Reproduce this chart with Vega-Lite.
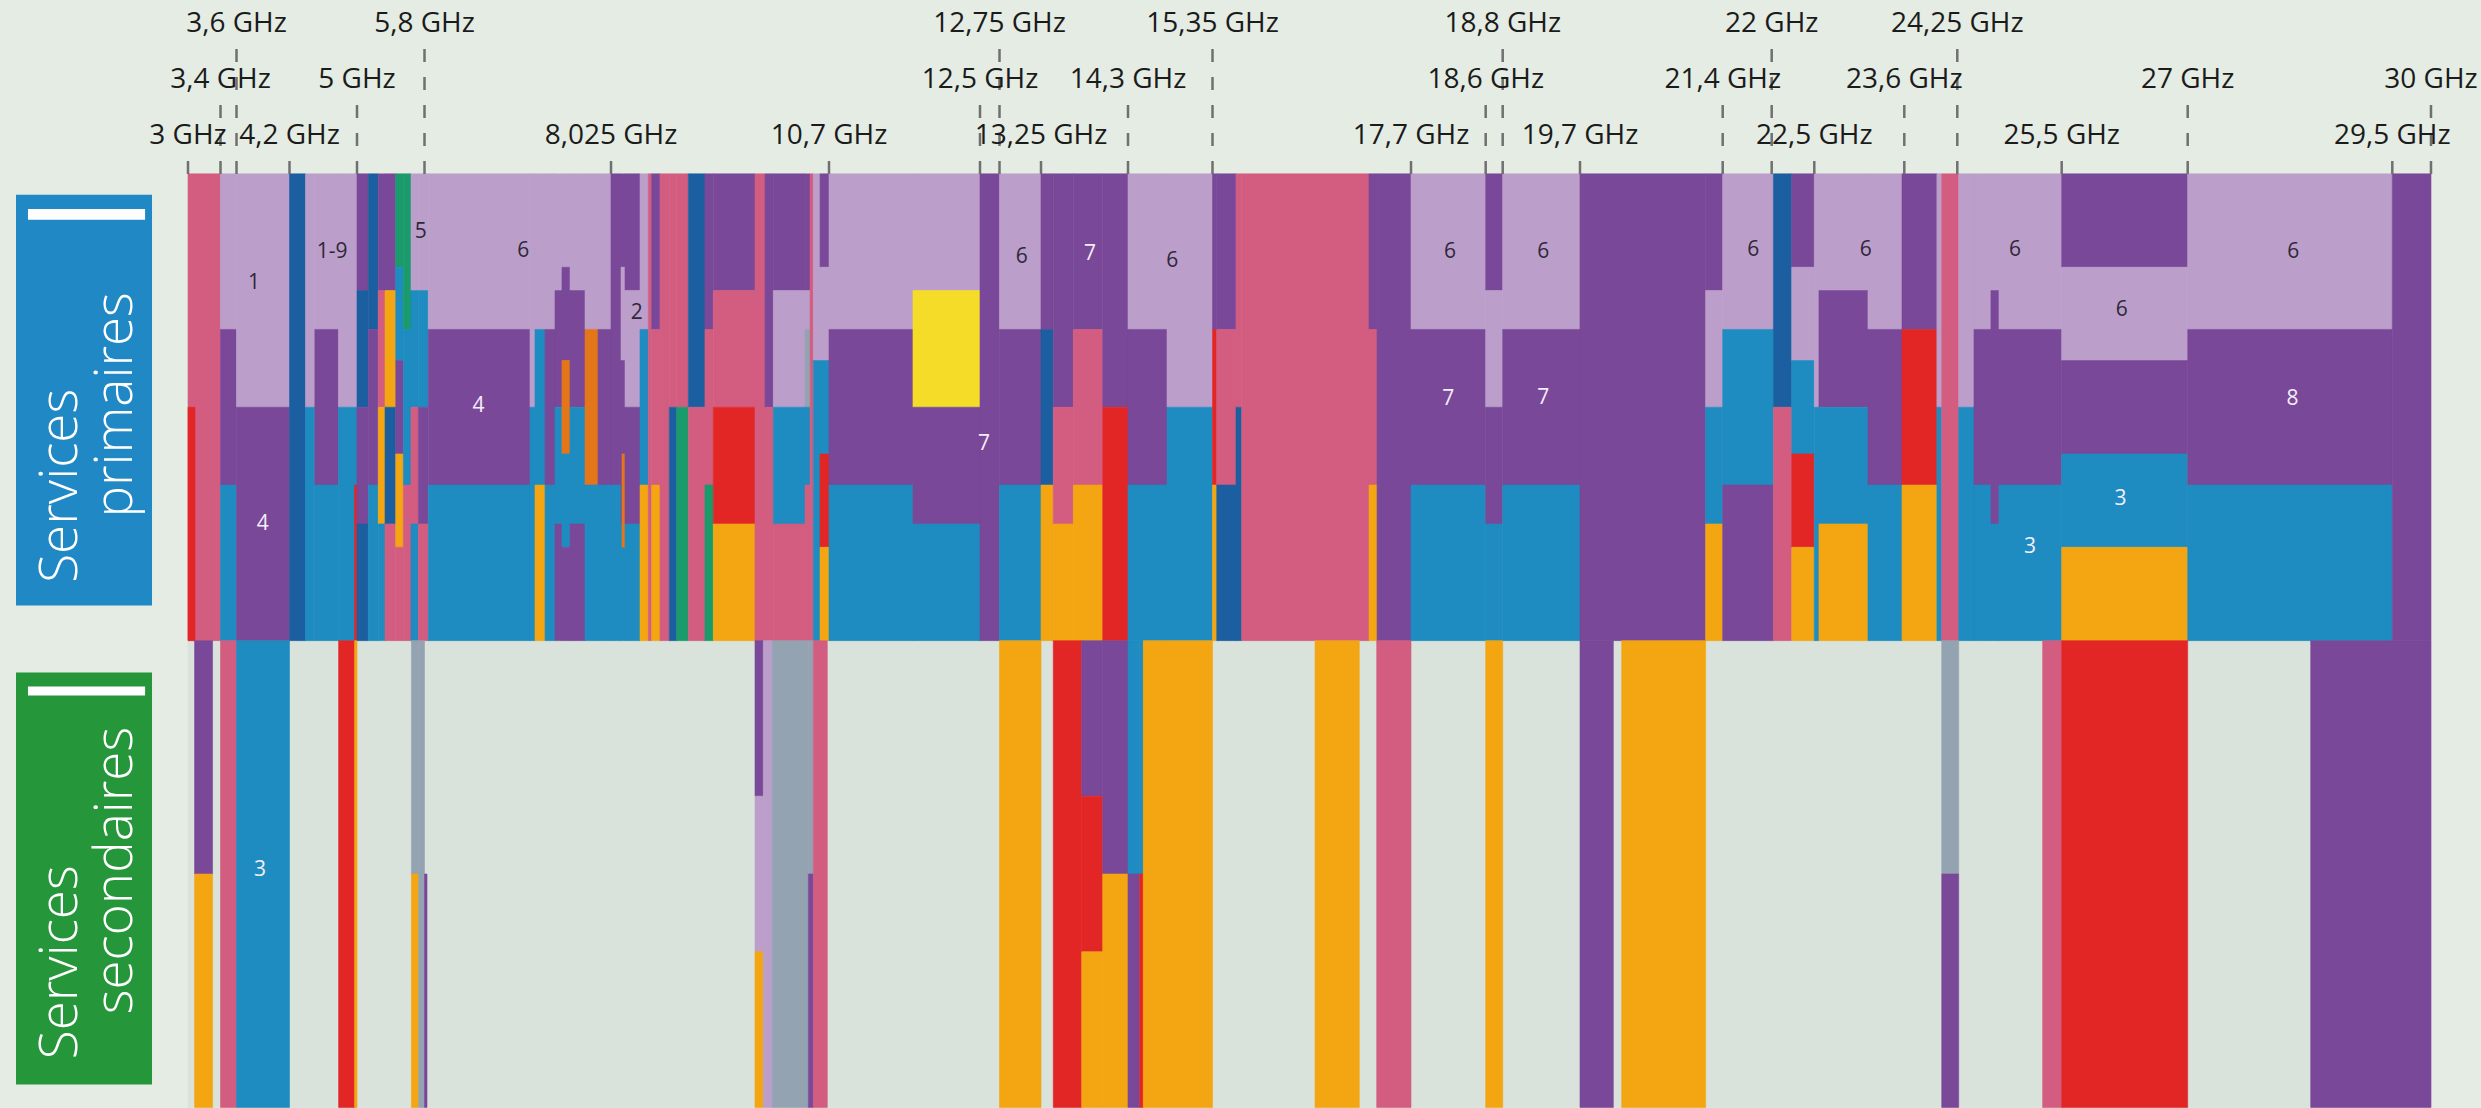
{
"$schema": "https://vega.github.io/schema/vega-lite/v6.json",
"background": "#e4ece3",
"padding": {"left": 16, "top": 0, "right": 7, "bottom": 0},
"spacing": 36,
"bounds": "flush",
"config": {"view": {"stroke": null}, "font": "Open Sans"},
"datasets": {
"bandes": [
{"a":3,"b":30,"t":12,"u":24,"c":"E"},
{"a":3,"b":3.4,"t":0,"u":12,"c":"K"},
{"a":3,"b":3.086,"t":6,"u":12,"c":"R"},
{"a":3.4,"b":3.6,"t":0,"u":4,"c":"L"},
{"a":3.4,"b":3.6,"t":4,"u":8,"c":"P"},
{"a":3.4,"b":3.6,"t":8,"u":12,"c":"B"},
{"a":3.6,"b":4.2,"t":0,"u":6,"c":"L"},
{"a":3.6,"b":4.2,"t":6,"u":12,"c":"P"},
{"a":4.2,"b":4.39,"t":0,"u":12,"c":"D"},
{"a":4.39,"b":4.5,"t":0,"u":6,"c":"L"},
{"a":4.39,"b":4.5,"t":6,"u":12,"c":"B"},
{"a":4.5,"b":4.78,"t":0,"u":4,"c":"L"},
{"a":4.5,"b":4.78,"t":4,"u":8,"c":"P"},
{"a":4.5,"b":4.78,"t":8,"u":12,"c":"B"},
{"a":4.78,"b":5,"t":0,"u":6,"c":"L"},
{"a":4.78,"b":5,"t":6,"u":12,"c":"B"},
{"a":4.97,"b":5,"t":8,"u":12,"c":"R"},
{"a":5,"b":5.134,"t":0,"u":3,"c":"P"},
{"a":5,"b":5.134,"t":3,"u":6,"c":"D"},
{"a":5,"b":5.134,"t":6,"u":9,"c":"P"},
{"a":5,"b":5.134,"t":9,"u":12,"c":"D"},
{"a":5.134,"b":5.252,"t":0,"u":4,"c":"D"},
{"a":5.134,"b":5.252,"t":4,"u":8,"c":"P"},
{"a":5.134,"b":5.252,"t":8,"u":12,"c":"B"},
{"a":5.252,"b":5.332,"t":0,"u":3,"c":"P"},
{"a":5.252,"b":5.332,"t":3,"u":6,"c":"K"},
{"a":5.252,"b":5.332,"t":6,"u":9,"c":"O"},
{"a":5.252,"b":5.332,"t":9,"u":12,"c":"B"},
{"a":5.332,"b":5.459,"t":0,"u":3,"c":"P"},
{"a":5.332,"b":5.459,"t":3,"u":6,"c":"O"},
{"a":5.332,"b":5.459,"t":6,"u":9,"c":"D"},
{"a":5.332,"b":5.459,"t":9,"u":12,"c":"K"},
{"a":5.459,"b":5.549,"t":0,"u":2.4,"c":"G"},
{"a":5.459,"b":5.549,"t":2.4,"u":4.8,"c":"B"},
{"a":5.459,"b":5.549,"t":4.8,"u":7.2,"c":"P"},
{"a":5.459,"b":5.549,"t":7.2,"u":9.6,"c":"O"},
{"a":5.459,"b":5.549,"t":9.6,"u":12,"c":"K"},
{"a":5.549,"b":5.64,"t":0,"u":4,"c":"G"},
{"a":5.549,"b":5.64,"t":4,"u":8,"c":"B"},
{"a":5.549,"b":5.64,"t":8,"u":12,"c":"K"},
{"a":5.64,"b":5.727,"t":0,"u":3,"c":"L"},
{"a":5.64,"b":5.727,"t":3,"u":6,"c":"B"},
{"a":5.64,"b":5.727,"t":6,"u":9,"c":"K"},
{"a":5.64,"b":5.727,"t":9,"u":12,"c":"B"},
{"a":5.727,"b":5.845,"t":0,"u":3,"c":"L"},
{"a":5.727,"b":5.845,"t":3,"u":6,"c":"B"},
{"a":5.727,"b":5.845,"t":6,"u":9,"c":"P"},
{"a":5.727,"b":5.845,"t":9,"u":12,"c":"K"},
{"a":5.845,"b":7.059,"t":0,"u":4,"c":"L"},
{"a":5.845,"b":7.059,"t":4,"u":8,"c":"P"},
{"a":5.845,"b":7.059,"t":8,"u":12,"c":"B"},
{"a":7.059,"b":7.118,"t":0,"u":6,"c":"L"},
{"a":7.059,"b":7.118,"t":6,"u":12,"c":"B"},
{"a":7.118,"b":7.238,"t":0,"u":4,"c":"L"},
{"a":7.118,"b":7.238,"t":4,"u":8,"c":"B"},
{"a":7.118,"b":7.238,"t":8,"u":12,"c":"O"},
{"a":7.238,"b":7.357,"t":0,"u":4,"c":"L"},
{"a":7.238,"b":7.357,"t":4,"u":8,"c":"P"},
{"a":7.238,"b":7.357,"t":8,"u":12,"c":"B"},
{"a":7.357,"b":7.44,"t":0,"u":3,"c":"L"},
{"a":7.357,"b":7.44,"t":3,"u":6,"c":"P"},
{"a":7.357,"b":7.44,"t":6,"u":9,"c":"B"},
{"a":7.357,"b":7.44,"t":9,"u":12,"c":"P"},
{"a":7.44,"b":7.536,"t":0,"u":2.4,"c":"L"},
{"a":7.44,"b":7.536,"t":2.4,"u":4.8,"c":"P"},
{"a":7.44,"b":7.536,"t":4.8,"u":7.2,"c":"F"},
{"a":7.44,"b":7.536,"t":7.2,"u":9.6,"c":"B"},
{"a":7.44,"b":7.536,"t":9.6,"u":12,"c":"P"},
{"a":7.536,"b":7.715,"t":0,"u":3,"c":"L"},
{"a":7.536,"b":7.715,"t":3,"u":6,"c":"P"},
{"a":7.536,"b":7.715,"t":6,"u":9,"c":"B"},
{"a":7.536,"b":7.715,"t":9,"u":12,"c":"P"},
{"a":7.715,"b":7.87,"t":0,"u":4,"c":"L"},
{"a":7.715,"b":7.87,"t":4,"u":8,"c":"F"},
{"a":7.715,"b":7.87,"t":8,"u":12,"c":"B"},
{"a":7.87,"b":8.025,"t":0,"u":4,"c":"L"},
{"a":7.87,"b":8.025,"t":4,"u":8,"c":"P"},
{"a":7.87,"b":8.025,"t":8,"u":12,"c":"B"},
{"a":8.025,"b":8.148,"t":0,"u":8,"c":"P"},
{"a":8.025,"b":8.148,"t":8,"u":12,"c":"B"},
{"a":8.148,"b":8.197,"t":0,"u":2.4,"c":"P"},
{"a":8.148,"b":8.197,"t":2.4,"u":4.8,"c":"L"},
{"a":8.148,"b":8.197,"t":4.8,"u":9,"c":"P"},
{"a":8.148,"b":8.197,"t":9,"u":12,"c":"B"},
{"a":8.16,"b":8.197,"t":7.2,"u":9.6,"c":"F"},
{"a":8.197,"b":8.381,"t":0,"u":3,"c":"P"},
{"a":8.197,"b":8.381,"t":3,"u":6,"c":"L"},
{"a":8.197,"b":8.381,"t":6,"u":9,"c":"P"},
{"a":8.197,"b":8.381,"t":9,"u":12,"c":"B"},
{"a":8.381,"b":8.483,"t":0,"u":4,"c":"L"},
{"a":8.381,"b":8.483,"t":4,"u":8,"c":"B"},
{"a":8.381,"b":8.483,"t":8,"u":12,"c":"O"},
{"a":8.483,"b":8.524,"t":0,"u":12,"c":"K"},
{"a":8.524,"b":8.626,"t":0,"u":4,"c":"P"},
{"a":8.524,"b":8.626,"t":4,"u":8,"c":"K"},
{"a":8.524,"b":8.626,"t":8,"u":12,"c":"O"},
{"a":8.626,"b":8.74,"t":0,"u":12,"c":"K"},
{"a":8.74,"b":8.831,"t":0,"u":6,"c":"K"},
{"a":8.74,"b":8.831,"t":6,"u":12,"c":"D"},
{"a":8.831,"b":8.974,"t":0,"u":6,"c":"K"},
{"a":8.831,"b":8.974,"t":6,"u":12,"c":"G"},
{"a":8.974,"b":9.178,"t":0,"u":6,"c":"D"},
{"a":8.974,"b":9.178,"t":6,"u":12,"c":"K"},
{"a":9.178,"b":9.28,"t":0,"u":4,"c":"P"},
{"a":9.178,"b":9.28,"t":4,"u":8,"c":"K"},
{"a":9.178,"b":9.28,"t":8,"u":12,"c":"G"},
{"a":9.28,"b":9.792,"t":0,"u":3,"c":"P"},
{"a":9.28,"b":9.792,"t":3,"u":6,"c":"K"},
{"a":9.28,"b":9.792,"t":6,"u":9,"c":"R"},
{"a":9.28,"b":9.792,"t":9,"u":12,"c":"O"},
{"a":9.792,"b":9.915,"t":0,"u":12,"c":"K"},
{"a":9.915,"b":10.017,"t":0,"u":6,"c":"P"},
{"a":9.915,"b":10.017,"t":6,"u":12,"c":"K"},
{"a":10.017,"b":10.406,"t":0,"u":3,"c":"P"},
{"a":10.017,"b":10.406,"t":3,"u":6,"c":"L"},
{"a":10.017,"b":10.406,"t":6,"u":9,"c":"B"},
{"a":10.017,"b":10.406,"t":9,"u":12,"c":"K"},
{"a":10.406,"b":10.468,"t":0,"u":3,"c":"P"},
{"a":10.406,"b":10.468,"t":3,"u":4,"c":"L"},
{"a":10.406,"b":10.468,"t":4,"u":6,"c":"S"},
{"a":10.406,"b":10.468,"t":6,"u":8,"c":"B"},
{"a":10.406,"b":10.468,"t":8,"u":12,"c":"K"},
{"a":10.468,"b":10.508,"t":0,"u":12,"c":"K"},
{"a":10.508,"b":10.59,"t":0,"u":4.8,"c":"L"},
{"a":10.508,"b":10.59,"t":4.8,"u":12,"c":"B"},
{"a":10.59,"b":10.7,"t":0,"u":2.4,"c":"P"},
{"a":10.59,"b":10.7,"t":2.4,"u":4.8,"c":"L"},
{"a":10.59,"b":10.7,"t":4.8,"u":7.2,"c":"B"},
{"a":10.59,"b":10.7,"t":7.2,"u":9.6,"c":"R"},
{"a":10.59,"b":10.7,"t":9.6,"u":12,"c":"O"},
{"a":10.7,"b":11.701,"t":0,"u":4,"c":"L"},
{"a":10.7,"b":11.701,"t":4,"u":8,"c":"P"},
{"a":10.7,"b":11.701,"t":8,"u":12,"c":"B"},
{"a":11.701,"b":12.5,"t":0,"u":3,"c":"L"},
{"a":11.701,"b":12.5,"t":3,"u":6,"c":"Y"},
{"a":11.701,"b":12.5,"t":6,"u":9,"c":"P"},
{"a":11.701,"b":12.5,"t":9,"u":12,"c":"B"},
{"a":12.5,"b":12.75,"t":0,"u":12,"c":"P"},
{"a":12.75,"b":13.25,"t":0,"u":4,"c":"L"},
{"a":12.75,"b":13.25,"t":4,"u":8,"c":"P"},
{"a":12.75,"b":13.25,"t":8,"u":12,"c":"B"},
{"a":13.25,"b":13.398,"t":0,"u":4,"c":"P"},
{"a":13.25,"b":13.398,"t":4,"u":8,"c":"D"},
{"a":13.25,"b":13.398,"t":8,"u":12,"c":"O"},
{"a":13.398,"b":13.64,"t":0,"u":6,"c":"P"},
{"a":13.398,"b":13.64,"t":6,"u":9,"c":"K"},
{"a":13.398,"b":13.64,"t":9,"u":12,"c":"O"},
{"a":13.64,"b":13.995,"t":0,"u":4,"c":"P"},
{"a":13.64,"b":13.995,"t":4,"u":8,"c":"K"},
{"a":13.64,"b":13.995,"t":8,"u":12,"c":"O"},
{"a":13.995,"b":14.3,"t":0,"u":6,"c":"P"},
{"a":13.995,"b":14.3,"t":6,"u":12,"c":"R"},
{"a":14.3,"b":14.785,"t":0,"u":4,"c":"L"},
{"a":14.3,"b":14.785,"t":4,"u":8,"c":"P"},
{"a":14.3,"b":14.785,"t":8,"u":12,"c":"B"},
{"a":14.785,"b":15.35,"t":0,"u":6,"c":"L"},
{"a":14.785,"b":15.35,"t":6,"u":12,"c":"B"},
{"a":15.35,"b":15.4,"t":0,"u":4,"c":"P"},
{"a":15.35,"b":15.4,"t":4,"u":8,"c":"R"},
{"a":15.35,"b":15.4,"t":8,"u":12,"c":"O"},
{"a":15.4,"b":15.628,"t":0,"u":4,"c":"P"},
{"a":15.4,"b":15.628,"t":4,"u":8,"c":"K"},
{"a":15.4,"b":15.628,"t":8,"u":12,"c":"D"},
{"a":15.628,"b":15.696,"t":0,"u":6,"c":"K"},
{"a":15.628,"b":15.696,"t":6,"u":12,"c":"D"},
{"a":15.696,"b":17.203,"t":0,"u":12,"c":"K"},
{"a":17.203,"b":17.298,"t":0,"u":4,"c":"P"},
{"a":17.203,"b":17.298,"t":4,"u":8,"c":"K"},
{"a":17.203,"b":17.298,"t":8,"u":12,"c":"O"},
{"a":17.298,"b":17.7,"t":0,"u":12,"c":"P"},
{"a":17.7,"b":18.6,"t":0,"u":4,"c":"L"},
{"a":17.7,"b":18.6,"t":4,"u":8,"c":"P"},
{"a":17.7,"b":18.6,"t":8,"u":12,"c":"B"},
{"a":18.6,"b":18.8,"t":0,"u":3,"c":"P"},
{"a":18.6,"b":18.8,"t":3,"u":6,"c":"L"},
{"a":18.6,"b":18.8,"t":6,"u":9,"c":"P"},
{"a":18.6,"b":18.8,"t":9,"u":12,"c":"B"},
{"a":18.8,"b":19.7,"t":0,"u":4,"c":"L"},
{"a":18.8,"b":19.7,"t":4,"u":8,"c":"P"},
{"a":18.8,"b":19.7,"t":8,"u":12,"c":"B"},
{"a":19.7,"b":21.197,"t":0,"u":12,"c":"P"},
{"a":21.197,"b":21.4,"t":0,"u":3,"c":"P"},
{"a":21.197,"b":21.4,"t":3,"u":6,"c":"L"},
{"a":21.197,"b":21.4,"t":6,"u":9,"c":"B"},
{"a":21.197,"b":21.4,"t":9,"u":12,"c":"O"},
{"a":21.4,"b":22.02,"t":0,"u":4,"c":"L"},
{"a":21.4,"b":22.02,"t":4,"u":8,"c":"B"},
{"a":21.4,"b":22.02,"t":8,"u":12,"c":"P"},
{"a":22.02,"b":22.235,"t":0,"u":6,"c":"D"},
{"a":22.02,"b":22.235,"t":6,"u":12,"c":"K"},
{"a":22.235,"b":22.5,"t":0,"u":2.4,"c":"P"},
{"a":22.235,"b":22.5,"t":2.4,"u":4.8,"c":"L"},
{"a":22.235,"b":22.5,"t":4.8,"u":7.2,"c":"B"},
{"a":22.235,"b":22.5,"t":7.2,"u":9.6,"c":"R"},
{"a":22.235,"b":22.5,"t":9.6,"u":12,"c":"O"},
{"a":22.5,"b":22.557,"t":0,"u":6,"c":"L"},
{"a":22.5,"b":22.557,"t":6,"u":12,"c":"B"},
{"a":22.557,"b":23.156,"t":0,"u":3,"c":"L"},
{"a":22.557,"b":23.156,"t":3,"u":6,"c":"P"},
{"a":22.557,"b":23.156,"t":6,"u":9,"c":"B"},
{"a":22.557,"b":23.156,"t":9,"u":12,"c":"O"},
{"a":23.156,"b":23.572,"t":0,"u":4,"c":"L"},
{"a":23.156,"b":23.572,"t":4,"u":8,"c":"P"},
{"a":23.156,"b":23.572,"t":8,"u":12,"c":"B"},
{"a":23.572,"b":24,"t":0,"u":4,"c":"P"},
{"a":23.572,"b":24,"t":4,"u":8,"c":"R"},
{"a":23.572,"b":24,"t":8,"u":12,"c":"O"},
{"a":24,"b":24.059,"t":0,"u":6,"c":"L"},
{"a":24,"b":24.059,"t":6,"u":12,"c":"B"},
{"a":24.059,"b":24.267,"t":0,"u":12,"c":"K"},
{"a":24.267,"b":24.45,"t":0,"u":6,"c":"L"},
{"a":24.267,"b":24.45,"t":6,"u":12,"c":"B"},
{"a":24.45,"b":24.653,"t":0,"u":4,"c":"L"},
{"a":24.45,"b":24.653,"t":4,"u":8,"c":"P"},
{"a":24.45,"b":24.653,"t":8,"u":12,"c":"B"},
{"a":24.653,"b":24.749,"t":0,"u":3,"c":"L"},
{"a":24.653,"b":24.749,"t":3,"u":9,"c":"P"},
{"a":24.653,"b":24.749,"t":9,"u":12,"c":"B"},
{"a":24.749,"b":25.5,"t":0,"u":4,"c":"L"},
{"a":24.749,"b":25.5,"t":4,"u":8,"c":"P"},
{"a":24.749,"b":25.5,"t":8,"u":12,"c":"B"},
{"a":25.5,"b":27,"t":0,"u":2.4,"c":"P"},
{"a":25.5,"b":27,"t":2.4,"u":4.8,"c":"L"},
{"a":25.5,"b":27,"t":4.8,"u":7.2,"c":"P"},
{"a":25.5,"b":27,"t":7.2,"u":9.6,"c":"B"},
{"a":25.5,"b":27,"t":9.6,"u":12,"c":"O"},
{"a":27,"b":29.5,"t":0,"u":4,"c":"L"},
{"a":27,"b":29.5,"t":4,"u":8,"c":"P"},
{"a":27,"b":29.5,"t":8,"u":12,"c":"B"},
{"a":29.5,"b":30,"t":0,"u":12,"c":"P"},
{"a":3.081,"b":3.302,"t":12,"u":18,"c":"P"},
{"a":3.081,"b":3.302,"t":18,"u":24,"c":"O"},
{"a":3.4,"b":3.6,"t":12,"u":24,"c":"K"},
{"a":3.6,"b":4.2,"t":12,"u":24,"c":"B"},
{"a":4.782,"b":4.972,"t":12,"u":24,"c":"R"},
{"a":4.972,"b":5,"t":12,"u":24,"c":"O"},
{"a":5.645,"b":5.73,"t":12,"u":18,"c":"S"},
{"a":5.645,"b":5.73,"t":18,"u":24,"c":"O"},
{"a":5.73,"b":5.8,"t":12,"u":24,"c":"S"},
{"a":5.8,"b":5.83,"t":18,"u":24,"c":"P"},
{"a":9.792,"b":9.894,"t":12,"u":16,"c":"P"},
{"a":9.792,"b":9.894,"t":16,"u":20,"c":"L"},
{"a":9.792,"b":9.894,"t":20,"u":24,"c":"O"},
{"a":9.894,"b":10.004,"t":12,"u":24,"c":"L"},
{"a":10.004,"b":10.447,"t":12,"u":24,"c":"S"},
{"a":10.447,"b":10.508,"t":12,"u":18,"c":"S"},
{"a":10.447,"b":10.508,"t":18,"u":24,"c":"P"},
{"a":10.508,"b":10.679,"t":12,"u":24,"c":"K"},
{"a":12.75,"b":13.25,"t":12,"u":24,"c":"O"},
{"a":13.398,"b":13.741,"t":12,"u":24,"c":"R"},
{"a":13.741,"b":13.995,"t":12,"u":16,"c":"P"},
{"a":13.741,"b":13.995,"t":16,"u":20,"c":"R"},
{"a":13.741,"b":13.995,"t":20,"u":24,"c":"O"},
{"a":13.995,"b":14.3,"t":12,"u":18,"c":"P"},
{"a":13.995,"b":14.3,"t":18,"u":24,"c":"O"},
{"a":14.3,"b":14.445,"t":12,"u":18,"c":"B"},
{"a":14.3,"b":14.445,"t":18,"u":24,"c":"P"},
{"a":14.445,"b":14.49,"t":12,"u":18,"c":"B"},
{"a":14.445,"b":14.49,"t":18,"u":24,"c":"R"},
{"a":14.49,"b":15.35,"t":12,"u":24,"c":"O"},
{"a":16.564,"b":17.088,"t":12,"u":24,"c":"O"},
{"a":17.294,"b":17.7,"t":12,"u":24,"c":"K"},
{"a":18.6,"b":18.8,"t":12,"u":24,"c":"O"},
{"a":19.7,"b":20.097,"t":12,"u":24,"c":"P"},
{"a":20.197,"b":21.197,"t":12,"u":24,"c":"O"},
{"a":24.059,"b":24.267,"t":12,"u":18,"c":"S"},
{"a":24.059,"b":24.267,"t":18,"u":24,"c":"P"},
{"a":25.272,"b":25.5,"t":12,"u":24,"c":"K"},
{"a":25.5,"b":27,"t":12,"u":24,"c":"R"},
{"a":28.503,"b":30,"t":12,"u":24,"c":"P"}
],
"chiffres": [
{"f":3.798,"k":2.8,"n":"1","fond":"clair"},
{"f":3.897,"k":9.0,"n":"4","fond":"sombre"},
{"f":4.704,"k":2.0,"n":"1-9","fond":"clair"},
{"f":5.755,"k":1.49,"n":"5","fond":"clair"},
{"f":6.978,"k":1.98,"n":"6","fond":"clair"},
{"f":6.445,"k":5.97,"n":"4","fond":"sombre"},
{"f":8.34,"k":3.58,"n":"2","fond":"clair"},
{"f":12.551,"k":6.95,"n":"7","fond":"sombre"},
{"f":13.017,"k":2.13,"n":"6","fond":"clair"},
{"f":13.841,"k":2.07,"n":"7","fond":"sombre"},
{"f":14.85,"k":2.25,"n":"6","fond":"clair"},
{"f":18.17,"k":2.0,"n":"6","fond":"clair"},
{"f":18.15,"k":5.8,"n":"7","fond":"sombre"},
{"f":19.273,"k":2.0,"n":"6","fond":"clair"},
{"f":19.273,"k":5.75,"n":"7","fond":"sombre"},
{"f":21.775,"k":1.95,"n":"6","fond":"clair"},
{"f":23.128,"k":1.95,"n":"6","fond":"clair"},
{"f":24.941,"k":1.95,"n":"6","fond":"clair"},
{"f":25.12,"k":9.6,"n":"3","fond":"sombre"},
{"f":26.214,"k":3.5,"n":"6","fond":"clair"},
{"f":26.2,"k":8.35,"n":"3","fond":"sombre"},
{"f":28.29,"k":2.0,"n":"6","fond":"clair"},
{"f":28.28,"k":5.8,"n":"8","fond":"sombre"},
{"f":3.866,"k":17.9,"n":"3","fond":"sombre"}
],
"graduations": [
{"f":3,"label":"3 GHz","rang":3},
{"f":3.4,"label":"3,4 GHz","rang":2},
{"f":3.6,"label":"3,6 GHz","rang":1},
{"f":4.2,"label":"4,2 GHz","rang":3},
{"f":5,"label":"5 GHz","rang":2},
{"f":5.8,"label":"5,8 GHz","rang":1},
{"f":8.025,"label":"8,025 GHz","rang":3},
{"f":10.7,"label":"10,7 GHz","rang":3},
{"f":12.5,"label":"12,5 GHz","rang":2},
{"f":12.75,"label":"12,75 GHz","rang":1},
{"f":13.25,"label":"13,25 GHz","rang":3},
{"f":14.3,"label":"14,3 GHz","rang":2},
{"f":15.35,"label":"15,35 GHz","rang":1},
{"f":17.7,"label":"17,7 GHz","rang":3},
{"f":18.6,"label":"18,6 GHz","rang":2},
{"f":18.8,"label":"18,8 GHz","rang":1},
{"f":19.7,"label":"19,7 GHz","rang":3},
{"f":21.4,"label":"21,4 GHz","rang":2},
{"f":22,"label":"22 GHz","rang":1},
{"f":22.5,"label":"22,5 GHz","rang":3},
{"f":23.6,"label":"23,6 GHz","rang":2},
{"f":24.25,"label":"24,25 GHz","rang":1},
{"f":25.5,"label":"25,5 GHz","rang":3},
{"f":27,"label":"27 GHz","rang":2},
{"f":29.5,"label":"29,5 GHz","rang":3},
{"f":30,"label":"30 GHz","rang":2}
]
},
"hconcat": [
{
"width": 136, "height": 1107.4,
"data": {"values": [{"rubrique": "Services"}]},
"layer": [
{"mark": {"type": "rect", "fill": "#2188c6"},
 "encoding": {"x": {"datum": 0, "type": "quantitative", "scale": {"domain": [0, 1], "nice": false, "zero": false}, "axis": null}, "x2": {"datum": 1},
  "y": {"datum": 0.54, "type": "quantitative", "scale": {"domain": [-4.47, 24], "reverse": true, "nice": false, "zero": false}, "axis": null}, "y2": {"datum": 11.1}}},
{"mark": {"type": "rect", "fill": "#ffffff"},
 "encoding": {"x": {"datum": 0.088, "type": "quantitative"}, "x2": {"datum": 0.949},
  "y": {"datum": 0.9, "type": "quantitative"}, "y2": {"datum": 1.18}}},
{"mark": {"type": "text", "angle": 270, "font": "Open Sans", "fontWeight": 300, "fontSize": 53, "fill": "#ffffff", "align": "center", "baseline": "alphabetic"},
 "encoding": {"x": {"datum": 0.4485, "type": "quantitative"}, "y": {"datum": 8.02, "type": "quantitative"}, "text": {"value": "Services"}}},
{"mark": {"type": "text", "angle": 270, "font": "Open Sans", "fontWeight": 300, "fontSize": 53, "fill": "#ffffff", "align": "center", "baseline": "alphabetic"},
 "encoding": {"x": {"datum": 0.853, "type": "quantitative"}, "y": {"datum": 5.94, "type": "quantitative"}, "text": {"value": "primaires"}}},
{"mark": {"type": "rect", "fill": "#26963b"},
 "encoding": {"x": {"datum": 0, "type": "quantitative"}, "x2": {"datum": 1},
  "y": {"datum": 12.82, "type": "quantitative"}, "y2": {"datum": 23.41}}},
{"mark": {"type": "rect", "fill": "#ffffff"},
 "encoding": {"x": {"datum": 0.088, "type": "quantitative"}, "x2": {"datum": 0.949},
  "y": {"datum": 13.18, "type": "quantitative"}, "y2": {"datum": 13.41}}},
{"mark": {"type": "text", "angle": 270, "font": "Open Sans", "fontWeight": 300, "fontSize": 53, "fill": "#ffffff", "align": "center", "baseline": "alphabetic"},
 "encoding": {"x": {"datum": 0.4485, "type": "quantitative"}, "y": {"datum": 20.27, "type": "quantitative"}, "text": {"value": "Services"}}},
{"mark": {"type": "text", "angle": 270, "font": "Open Sans", "fontWeight": 300, "fontSize": 53, "fill": "#ffffff", "align": "center", "baseline": "alphabetic"},
 "encoding": {"x": {"datum": 0.853, "type": "quantitative"}, "y": {"datum": 17.91, "type": "quantitative"}, "text": {"value": "secondaires"}}}
]
},
{
"width": 2243, "height": 1107.4,
"layer": [
{"data": {"name": "bandes"},
 "mark": {"type": "rect", "strokeWidth": 0.6},
 "encoding": {
  "x": {"field": "a", "type": "quantitative", "axis": null, "scale": {"domain": [3,3.4,3.6,4.2,5,5.8,8.025,10.7,12.5,12.75,13.25,14.3,15.35,17.7,18.6,18.8,19.7,21.4,22,22.5,23.6,24.25,25.5,27,29.5,30], "range": [0,32.5,48.5,101.5,169,236.5,423,641,792,811.5,853,940,1024.5,1223,1297.7,1314.7,1392,1534.7,1583.7,1626.3,1716.3,1769.3,1873.7,1999.7,2204.3,2243], "nice": false, "zero": false}},
  "x2": {"field": "b"},
  "y": {"field": "t", "type": "quantitative", "axis": null, "scale": {"domain": [-4.47, 24], "reverse": true, "nice": false, "zero": false}},
  "y2": {"field": "u"},
  "color": {"field": "c", "type": "nominal", "legend": null, "scale": {"domain": ["L","P","K","B","D","R","O","Y","G","F","S","E"], "range": ["#bc9ecb","#7a4898","#d35d80","#1e8cc0","#1c5fa0","#e22626","#f3a612","#f5dc28","#1a9b6b","#e4761a","#94a3b1","#d9e3dc"]}},
  "stroke": {"field": "c", "type": "nominal", "legend": null, "scale": {"domain": ["L","P","K","B","D","R","O","Y","G","F","S","E"], "range": ["#bc9ecb","#7a4898","#d35d80","#1e8cc0","#1c5fa0","#e22626","#f3a612","#f5dc28","#1a9b6b","#e4761a","#94a3b1","#d9e3dc"]}}
 }},
{"data": {"name": "chiffres"},
 "mark": {"type": "text", "font": "Open Sans", "fontSize": 21, "align": "center", "baseline": "middle"},
 "encoding": {
  "x": {"field": "f", "type": "quantitative", "axis": null},
  "y": {"field": "k", "type": "quantitative", "axis": null, "scale": {"domain": [-4.47, 24], "reverse": true, "nice": false, "zero": false}},
  "text": {"field": "n"},
  "color": {"field": "fond", "type": "nominal", "legend": null, "scale": {"domain": ["clair", "sombre"], "range": ["#2e2838", "#f4eefa"]}}
 }},
{"data": {"name": "graduations"},
 "mark": {"type": "rule", "strokeDash": [13, 15], "strokeWidth": 2.5, "color": "#707070"},
 "encoding": {
  "x": {"field": "f", "type": "quantitative", "axis": null},
  "y": {"field": "rang", "type": "quantitative", "axis": null, "scale": {"domain": [1, 3], "range": [49, 161], "nice": false, "zero": false}},
  "y2": {"datum": 3.232}
 }},
{"data": {"name": "graduations"},
 "mark": {"type": "text", "font": "Open Sans", "fontSize": 28, "align": "center", "baseline": "middle", "dy": -25, "color": "#1b1b1b"},
 "encoding": {
  "x": {"field": "f", "type": "quantitative", "axis": null},
  "y": {"field": "rang", "type": "quantitative", "axis": null, "scale": {"domain": [1, 3], "range": [49, 161], "nice": false, "zero": false}},
  "text": {"field": "label"}
 }}
],
"resolve": {"scale": {"y": "independent", "color": "independent"}}
}
]
}
